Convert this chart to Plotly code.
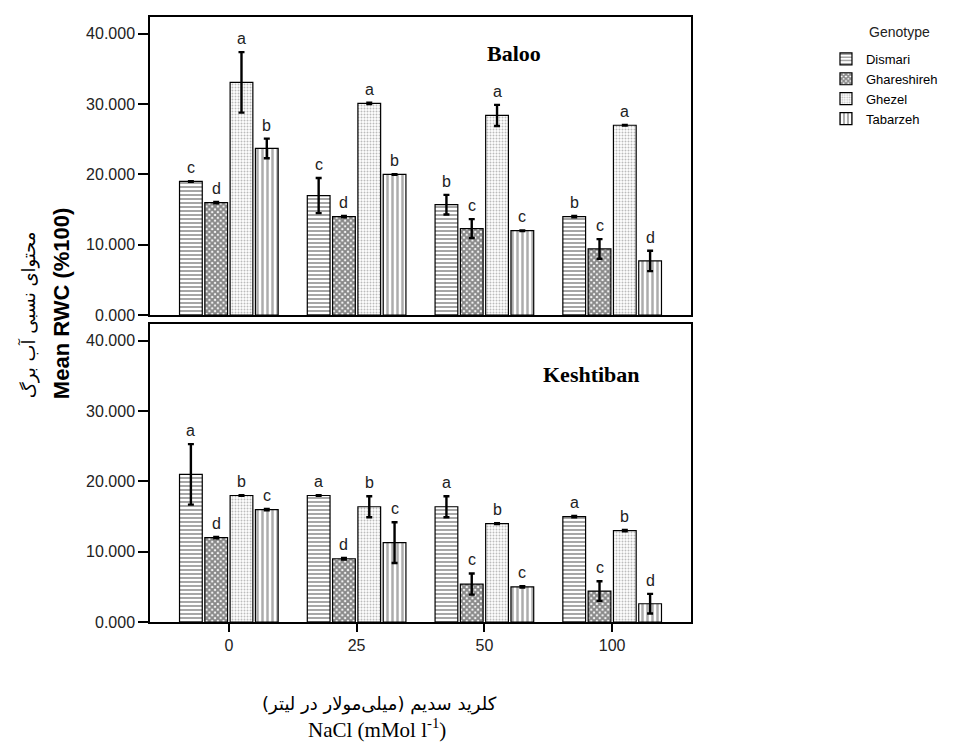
import plotly.graph_objects as go
from plotly.subplots import make_subplots

conc_labels = ["0", "25", "50", "100"]
conc_pos = [0, 1, 2, 3]
genotypes = ["Dismari", "Ghareshireh", "Ghezel", "Tabarzeh"]

# Baloo (top panel)
baloo_dismari = [19.0, 17.0, 15.7, 14.0]
baloo_dismari_err = [0.05, 2.5, 1.4, 0.1]
baloo_dismari_sig = ["c", "c", "b", "b"]
baloo_ghareshireh = [16.0, 14.0, 12.3, 9.4]
baloo_ghareshireh_err = [0.1, 0.1, 1.35, 1.4]
baloo_ghareshireh_sig = ["d", "d", "c", "c"]
baloo_ghezel = [33.1, 30.1, 28.4, 27.0]
baloo_ghezel_err = [4.3, 0.1, 1.5, 0.05]
baloo_ghezel_sig = ["a", "a", "a", "a"]
baloo_tabarzeh = [23.7, 20.0, 12.0, 7.7]
baloo_tabarzeh_err = [1.4, 0.05, 0.05, 1.45]
baloo_tabarzeh_sig = ["b", "b", "c", "d"]

# Keshtiban (bottom panel)
kesh_dismari = [21.0, 18.0, 16.4, 15.0]
kesh_dismari_err = [4.3, 0.05, 1.5, 0.1]
kesh_dismari_sig = ["a", "a", "a", "a"]
kesh_ghareshireh = [12.0, 9.0, 5.4, 4.4]
kesh_ghareshireh_err = [0.1, 0.1, 1.5, 1.4]
kesh_ghareshireh_sig = ["d", "d", "c", "c"]
kesh_ghezel = [18.0, 16.4, 14.0, 13.0]
kesh_ghezel_err = [0.05, 1.5, 0.05, 0.1]
kesh_ghezel_sig = ["b", "b", "b", "b"]
kesh_tabarzeh = [16.0, 11.3, 5.0, 2.6]
kesh_tabarzeh_err = [0.1, 2.9, 0.1, 1.4]
kesh_tabarzeh_sig = ["c", "c", "c", "d"]

y_ticks = [0, 10, 20, 30, 40]

panels = [
    ("Baloo", [
        (baloo_dismari, baloo_dismari_err, baloo_dismari_sig),
        (baloo_ghareshireh, baloo_ghareshireh_err, baloo_ghareshireh_sig),
        (baloo_ghezel, baloo_ghezel_err, baloo_ghezel_sig),
        (baloo_tabarzeh, baloo_tabarzeh_err, baloo_tabarzeh_sig),
    ]),
    ("Keshtiban", [
        (kesh_dismari, kesh_dismari_err, kesh_dismari_sig),
        (kesh_ghareshireh, kesh_ghareshireh_err, kesh_ghareshireh_sig),
        (kesh_ghezel, kesh_ghezel_err, kesh_ghezel_sig),
        (kesh_tabarzeh, kesh_tabarzeh_err, kesh_tabarzeh_sig),
    ]),
]

patterns = [
    dict(shape="-", size=4, solidity=0.5, fgcolor="#4d4d4d", bgcolor="white"),
    dict(shape="x", size=4, solidity=0.75, fgcolor="#111111", bgcolor="white"),
    dict(shape=".", size=3, solidity=0.35, fgcolor="#777777", bgcolor="white"),
    dict(shape="|", size=5, solidity=0.5, fgcolor="#5a5a5a", bgcolor="white"),
]

pitch = 0.198
bar_w = 0.178

fig = make_subplots(rows=2, cols=1, shared_xaxes=True, vertical_spacing=0.0148)

for r, (pname, series) in enumerate(panels, start=1):
    xref = "x" if r == 1 else "x2"
    yref = "y" if r == 1 else "y2"
    for k, (vals, errs, sigs) in enumerate(series):
        off = (k - 2) * pitch + (pitch - bar_w) / 2
        fig.add_trace(go.Bar(
            x=conc_pos, y=vals, width=bar_w, offset=off,
            name=genotypes[k], legendgroup=genotypes[k], showlegend=(r == 1),
            marker=dict(color="white", pattern=patterns[k],
                        line=dict(color="black", width=1.2)),
            error_y=dict(type="data", array=errs, visible=True,
                         color="black", thickness=2.4, width=3),
        ), row=r, col=1)
        for p, v, e, s in zip(conc_pos, vals, errs, sigs):
            fig.add_annotation(
                x=p + off + bar_w / 2, y=v + e, xref=xref, yref=yref,
                text=s, showarrow=False, yanchor="bottom", yshift=3,
                font=dict(family="Liberation Sans", size=16, color="#222222"))

axis_common = dict(showline=True, linecolor="black", linewidth=1.5, mirror=True,
                   showgrid=False, zeroline=False)

for r in (1, 2):
    fig.update_yaxes(range=[0, 42.4], tickvals=y_ticks, tickformat=".3f",
                     ticks="outside", ticklen=10, tickcolor="black", tickwidth=1.5,
                     tickfont=dict(family="Liberation Sans", size=16, color="#222222"),
                     row=r, col=1, **axis_common)
    fig.update_xaxes(range=[-0.617, 3.617], row=r, col=1, **axis_common)

fig.update_xaxes(showticklabels=False, ticks="", row=1, col=1)
fig.update_xaxes(tickvals=conc_pos, ticktext=conc_labels, ticks="outside", ticklen=8,
                 tickcolor="black", tickwidth=2,
                 tickfont=dict(family="Liberation Sans", size=16, color="#222222"),
                 row=2, col=1)

fig.add_annotation(text="<b>Baloo</b>", x=2.23, y=37.2, xref="x", yref="y",
                   showarrow=False, font=dict(family="Liberation Serif", size=22, color="black"))
fig.add_annotation(text="<b>Keshtiban</b>", x=2.84, y=35.2, xref="x2", yref="y2",
                   showarrow=False, font=dict(family="Liberation Serif", size=22, color="black"))

fig.add_annotation(text="<b>Mean RWC (%100)</b>", x=-0.1645, y=0.527, xref="paper", yref="paper",
                   textangle=-90, showarrow=False, xanchor="center", yanchor="middle",
                   font=dict(family="Liberation Sans", size=22, color="black"))
fig.add_annotation(text="محتوای نسبی آب برگ", x=-0.2255, y=0.507, xref="paper", yref="paper",
                   textangle=-90, showarrow=False, xanchor="center", yanchor="middle",
                   font=dict(family="DejaVu Sans", size=18, color="black"))

fig.add_annotation(text="کلرید سدیم (میلی‌مولار در لیتر)", x=0.425, y=-0.136, xref="paper", yref="paper",
                   showarrow=False, xanchor="center", yanchor="middle",
                   font=dict(family="DejaVu Sans", size=18, color="black"))
fig.add_annotation(text="NaCl (mMol l<sup>-1</sup>)", x=0.42, y=-0.176, xref="paper", yref="paper",
                   showarrow=False, xanchor="center", yanchor="middle",
                   font=dict(family="Liberation Serif", size=21, color="black"))

fig.add_annotation(text="Genotype", x=1.3845, y=0.975, xref="paper", yref="paper",
                   showarrow=False, xanchor="center", yanchor="middle",
                   font=dict(family="Liberation Sans", size=14, color="#222222"))

fig.update_layout(
    width=963, height=745,
    margin=dict(l=142, r=280, t=7, b=131),
    paper_bgcolor="white", plot_bgcolor="white",
    barmode="overlay",
    showlegend=True,
    legend=dict(x=1.2495, y=0.9555, xanchor="left", yanchor="top",
                font=dict(family="Liberation Sans", size=13, color="black"),
                itemwidth=30, tracegroupgap=0, bgcolor="rgba(0,0,0,0)"),
)

fig.write_html("out.html")
